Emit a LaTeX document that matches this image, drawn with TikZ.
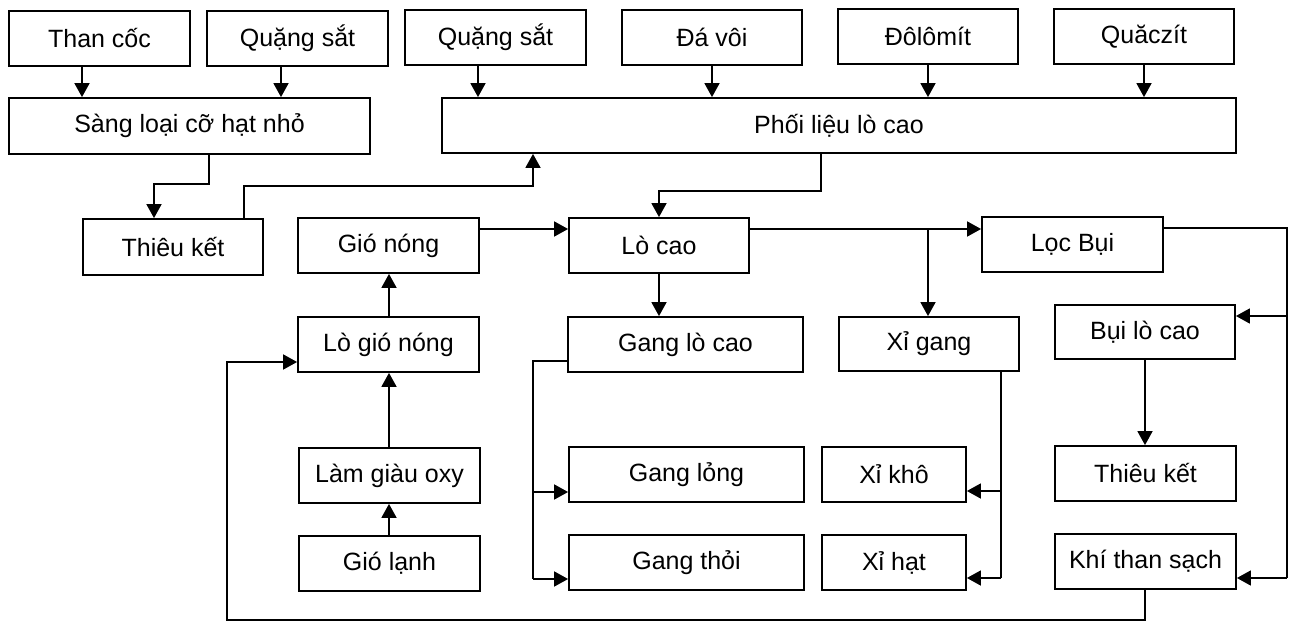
\documentclass[tikz,border=0pt]{standalone}
\usepackage{fontspec}
\setmainfont{Liberation Sans}
\usetikzlibrary{arrows.meta}
\tikzset{
  box/.style={draw, line width=1.8pt, inner sep=0pt, anchor=center, font=\fontsize{25}{29}\selectfont},
  conn/.style={line width=1.7pt},
  arr/.style={conn, -{Triangle[length=14pt,width=15pt]}}
}
\newcommand{\bx}[6]{%
  \pgfmathsetmacro{\bxcx}{(#2+#4)/2}%
  \pgfmathsetmacro{\bxcy}{(#3+#5)/2}%
  \pgfmathsetmacro{\bxw}{#4-#2}%
  \pgfmathsetmacro{\bxh}{#5-#3}%
  \node[box, minimum width=\bxw pt, minimum height=\bxh pt] (#1) at (\bxcx,\bxcy) {#6};%
}
\begin{document}
\begin{tikzpicture}[x=1pt,y=-1pt]
\useasboundingbox[fill=white] (0,0) rectangle (1294,623);
\bx{than}{9}{11}{190}{66}{Than cốc}
\bx{qsa}{207}{11}{388}{66}{Quặng sắt}
\bx{qsb}{405}{10}{586}{65}{Quặng sắt}
\bx{dav}{622}{10}{802}{65}{Đá vôi}
\bx{dol}{838}{9}{1018}{64}{Đôlômít}
\bx{qua}{1054}{9}{1234}{64}{Quăczít}
\bx{sang}{9}{98}{370}{154}{Sàng loại cỡ hạt nhỏ}
\bx{phoi}{442}{98}{1236}{153}{Phối liệu lò cao}
\bx{tka}{83}{219}{263}{275}{Thiêu kết}
\bx{gion}{298}{218}{479}{273}{Gió nóng}
\bx{lc}{569}{218}{749}{273}{Lò cao}
\bx{loc}{982}{217}{1163}{272}{Lọc Bụi}
\bx{lgn}{298}{317}{479}{372}{Lò gió nóng}
\bx{glc}{568}{317}{803}{372}{Gang lò cao}
\bx{xg}{839}{317}{1019}{371}{Xỉ gang}
\bx{blc}{1055}{305}{1235}{359}{Bụi lò cao}
\bx{lgo}{299}{448}{480}{503}{Làm giàu oxy}
\bx{gl}{569}{447}{804}{502}{Gang lỏng}
\bx{xk}{822}{447}{966}{502}{Xỉ khô}
\bx{tkb}{1055}{446}{1236}{501}{Thiêu kết}
\bx{gla}{299}{536}{480}{591}{Gió lạnh}
\bx{gt}{569}{535}{804}{590}{Gang thỏi}
\bx{xh}{822}{535}{966}{590}{Xỉ hạt}
\bx{kts}{1055}{534}{1236}{589}{Khí than sạch}
% top inputs
\draw[arr] (than.south -| 82,0) -- (sang.north -| 82,0);
\draw[arr] (qsa.south -| 281,0) -- (sang.north -| 281,0);
\draw[arr] (qsb.south -| 478,0) -- (phoi.north -| 478,0);
\draw[arr] (dav.south -| 712,0) -- (phoi.north -| 712,0);
\draw[arr] (dol.south -| 928,0) -- (phoi.north -| 928,0);
\draw[arr] (qua.south -| 1144,0) -- (phoi.north -| 1144,0);
% sang -> thieu ket
\draw[arr] (sang.south -| 209,0) -- (209,184) -| (tka.north -| 154,0);
% thieu ket -> phoi lieu
\draw[arr] (tka.north -| 244,0) -- (244,186) -| (phoi.south -| 533,0);
% phoi lieu -> lo cao
\draw[arr] (phoi.south -| 821,0) -- (821,191) -| (lc.north -| 659,0);
% gio nong -> lo cao
\draw[arr] (gion.east |- 0,229) -- (lc.west |- 0,229);
% lo cao -> loc bui, xi gang
\coordinate (br) at (928,229);
\draw[arr] (lc.east |- 0,229) -- (loc.west |- 0,229);
\draw[arr] (br) -- (xg.north -| br);
% loc bui -> bui lo cao, khi than sach
\coordinate (rt) at (1287,228);
\coordinate (rb) at (1287,578);
\draw[conn] (loc.east |- rt) -- (rt) -- (rb);
\draw[arr] (rb) -- (kts.east |- rb);
\draw[arr] (1287,316) -- (blc.east |- 0,316);
\draw[arr] (blc.south -| 1145,0) -- (tkb.north -| 1145,0);
% khi than sach -> lo gio nong
\draw[arr] (kts.south -| 1145,0) -- (1145,620) -- (227,620) -- (227,362) -- (lgn.west |- 0,362);
% air chain
\draw[arr] (gla.north -| 389,0) -- (lgo.south -| 389,0);
\draw[arr] (lgo.north -| 389,0) -- (lgn.south -| 389,0);
\draw[arr] (lgn.north -| 389,0) -- (gion.south -| 389,0);
% lo cao -> gang lo cao
\draw[arr] (lc.south -| 659,0) -- (glc.north -| 659,0);
% gang lo cao -> gang long, gang thoi
\coordinate (gb) at (533,579);
\draw[conn] (glc.west |- 0,361) -- (533,361) -- (gb);
\draw[arr] (gb) -- (gt.west |- gb);
\draw[arr] (533,492) -- (gl.west |- 0,492);
% xi gang -> xi kho, xi hat
\coordinate (xb) at (1001,578);
\draw[conn] (xg.south -| xb) -- (xb);
\draw[arr] (xb) -- (xh.east |- xb);
\draw[arr] (1001,491) -- (xk.east |- 0,491);
\end{tikzpicture}
\end{document}
